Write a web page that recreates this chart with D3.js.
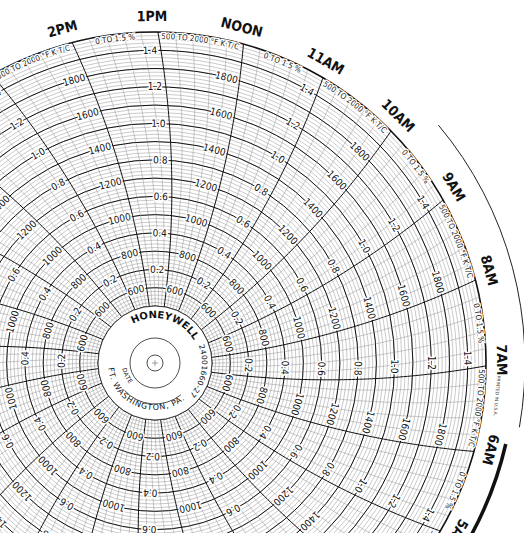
<!DOCTYPE html>
<html><head><meta charset="utf-8">
<script src="https://cdn.jsdelivr.net/npm/d3@7/dist/d3.min.js"></script>
<style>body{margin:0;background:#fff}svg{display:block}</style>
</head><body>
<script>
const hours = d3.range(0, 24);
const hourNames = ["MIDNIGHT","1AM","2AM","3AM","4AM","5AM","6AM","7AM","8AM","9AM","10AM","11AM","NOON","1PM","2PM","3PM","4PM","5PM","6PM","7PM","8PM","9PM","10PM","11PM"];
const percentTicks = [0.2,0.4,0.6,0.8,1.0,1.2,1.4];
const percentLabels = ["0.2","0.4","0.6","0.8","1.0","1.2","1.4"];
const tempTicks = [600,800,1000,1200,1400,1600,1800];
const scaleTexts = ["0 TO 1.5 %", "500 TO 2000 °F K T/C"];

const W=524,H=533,cx=155,cy=363;
const rScale = d3.scaleLinear().domain([0,1.5]).range([57,331]);
const tempToPct = d3.scaleLinear().domain([500,2000]).range([0,1.5]);
const hourAngle = d3.scaleLinear().domain([13,12]).range([0.5,15.5]);
const R = rScale(1.5), K = 900;
const rad = d=>d*Math.PI/180;
function pt(r,a){return [cx+r*Math.sin(a), cy-r*Math.cos(a)];}
function lineAngle(h, r){ return rad(hourAngle(h)) + (Math.acos(r/(2*K)) - Math.acos(R/(2*K))); }
const svg=d3.select("body").append("svg").attr("width",W).attr("height",H);
const g=svg.append("g");
const NF="Liberation Sans Narrow, DejaVu Sans Condensed, sans-serif";

const fine=d3.range(0,1.5001,0.02);
g.selectAll(".fr").data(fine).join("circle").attr("cx",cx).attr("cy",cy)
 .attr("r",d=>rScale(d)).attr("fill","none").attr("stroke","#888").attr("stroke-width",0.45);
const bold=d3.range(0,1.5001,0.1);
g.selectAll(".br").data(bold).join("circle").attr("cx",cx).attr("cy",cy)
 .attr("r",d=>rScale(d)).attr("fill","none").attr("stroke","#111").attr("stroke-width",d=>d>1.45?1.6:1);

const line=d3.line();
const rs=d3.range(rScale(0),R+0.01,4).concat([R]);
const minor=d3.range(0,24,0.2).filter(h=>Math.abs(h-Math.round(h))>0.01);
g.selectAll(".ml").data(minor).join("path")
 .attr("d",h=>line(rs.map(r=>pt(r,lineAngle(h,r))))).attr("fill","none").attr("stroke","#888").attr("stroke-width",0.45);
g.selectAll(".hl").data(hours).join("path")
 .attr("d",h=>line(rs.map(r=>pt(r,lineAngle(h,r))))).attr("fill","none").attr("stroke","#111").attr("stroke-width",1);

const labels=[];
hours.forEach(h=>{
  if(h%2===1) percentTicks.forEach((v,i)=>labels.push({h,v,t:percentLabels[i]}));
  else tempTicks.forEach(v=>labels.push({h,v:tempToPct(v),t:String(v)}));
});
g.selectAll(".lb").data(labels).join("text")
 .attr("transform",d=>{const r=rScale(d.v);const w=d.t.length*2.5+3.5;
   const a=lineAngle(d.h,r)-w/r;const p=pt(r,a);return `translate(${p[0]},${p[1]}) rotate(${a*180/Math.PI})`;})
 .attr("text-anchor","middle").attr("dominant-baseline","central")
 .attr("font-family",NF).attr("font-size",10)
 .attr("stroke","#fff").attr("stroke-width",3).attr("paint-order","stroke").attr("fill","#111")
 .text(d=>d.t);

const defs=svg.append("defs");
function arcPath(r,a0,a1){
  const p0=pt(r,rad(a0)),p1=pt(r,rad(a1));const large=Math.abs(a1-a0)>180?1:0;const sw=a1>a0?1:0;
  return `M${p0[0]},${p0[1]} A${r},${r} 0 ${large} ${sw} ${p1[0]},${p1[1]}`;}
hours.forEach(h=>{
  const a0=hourAngle(h), a1=hourAngle(h-1);
  defs.append("path").attr("id","sp"+h).attr("d",arcPath(R-7,a0,a1));
  g.append("text").attr("font-family",NF).attr("font-size",8)
   .attr("stroke","#fff").attr("stroke-width",2.5).attr("paint-order","stroke").attr("fill","#222")
   .append("textPath").attr("href","#sp"+h).attr("startOffset","50%").attr("text-anchor","middle")
   .text(h%2===1?scaleTexts[1]:scaleTexts[0]);
});
g.selectAll(".hn").data(hours).join("text")
 .attr("transform",h=>{const a=rad(hourAngle(h)-1);const p=pt(R+11,a);return `translate(${p[0]},${p[1]}) rotate(${a*180/Math.PI})`;})
 .attr("text-anchor","middle").attr("font-family","DejaVu Sans Condensed, DejaVu Sans, sans-serif")
 .attr("font-size",14).attr("font-weight",600).attr("fill","#111").text(h=>hourNames[h]);

g.append("path").attr("d",arcPath(370,50,100)).attr("fill","none").attr("stroke","#222").attr("stroke-width",1);
g.append("path").attr("d",arcPath(360,103,140)).attr("fill","none").attr("stroke","#111").attr("stroke-width",3.5);
{const p=pt(R+11,rad(95.5));g.append("text").attr("transform",`translate(${p[0]},${p[1]}) rotate(95.5)`)
 .attr("text-anchor","middle").attr("font-family","DejaVu Sans, sans-serif").attr("font-size",4.5).attr("fill","#333").text("PRINTED IN U.S.A.");}

g.append("circle").attr("cx",cx).attr("cy",cy).attr("r",rScale(0)).attr("fill","#fff").attr("stroke","#111").attr("stroke-width",0.8);
g.append("circle").attr("cx",cx).attr("cy",cy).attr("r",25).attr("fill","none").attr("stroke","#222").attr("stroke-width",0.8);
g.append("circle").attr("cx",cx).attr("cy",cy).attr("r",8).attr("fill","none").attr("stroke","#222").attr("stroke-width",0.8);
g.append("path").attr("d",`M${cx-3},${cy}H${cx+3}M${cx},${cy-3}V${cy+3}`).attr("stroke","#444").attr("stroke-width",0.5);
g.append("path").attr("d",arcPath(41,141,228)).attr("fill","none").attr("stroke","#222").attr("stroke-width",0.8);
defs.append("path").attr("id","hw").attr("d",arcPath(45,-70,100));
defs.append("path").attr("id","pn").attr("d",arcPath(47,40,150));
defs.append("path").attr("id","ft").attr("d",arcPath(47,280,110));
defs.append("path").attr("id","dt").attr("d",arcPath(33,262,220));
const ct=(id,txt,fs,fw,ls,off)=>g.append("text").attr("font-family","DejaVu Sans, sans-serif").attr("font-size",fs).attr("font-weight",fw).attr("letter-spacing",ls).attr("fill","#111")
 .append("textPath").attr("href","#"+id).attr("startOffset",off).attr("text-anchor","middle").text(txt);
ct("hw","HONEYWELL",10,"bold",0,"50%");
ct("pn","24001660-27",7.5,"normal",0.2,"55%");
ct("ft","FT. WASHINGTON, PA.",8,"normal",0.8,"46%");
ct("dt","DATE",6,"normal",0.5,"40%");
</script>
</body></html>
